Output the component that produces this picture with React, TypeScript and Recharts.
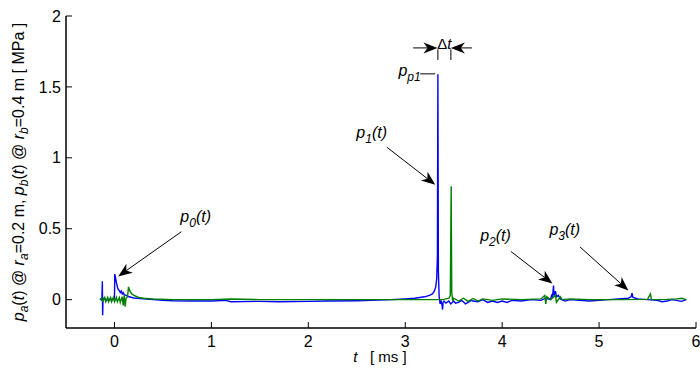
import React from "react";
import { LineChart, Line, XAxis, YAxis, ReferenceLine, ReferenceDot } from "recharts";

// sampled traces, time in ms, pressure in MPa
const blueT = [
  -0.15, -0.14, -0.13, -0.125, -0.122, -0.118, -0.11, -0.1, -0.08, -0.06, -0.04, -0.02, 0.0, 0.003,
  0.01, 0.02, 0.03, 0.04, 0.05, 0.06, 0.07, 0.08, 0.09, 0.1, 0.12, 0.15, 0.2, 0.3, 0.4, 0.5, 0.6,
  0.8, 1.0, 1.15, 1.2, 1.5, 1.7, 2.0, 2.2, 2.5, 2.8, 3.0, 3.1, 3.2, 3.25, 3.28, 3.3, 3.315, 3.325,
  3.332, 3.337, 3.342, 3.35, 3.36, 3.37, 3.38, 3.385, 3.39, 3.4, 3.42, 3.45, 3.47, 3.5, 3.52, 3.55,
  3.58, 3.6, 3.62, 3.65, 3.68, 3.7, 3.75, 3.8, 3.85, 3.9, 3.95, 4.0, 4.05, 4.1, 4.2, 4.3, 4.4, 4.45,
  4.5, 4.51, 4.52, 4.53, 4.535, 4.55, 4.56, 4.58, 4.6, 4.65, 4.7, 4.8, 4.9, 5.0, 5.1, 5.2, 5.3,
  5.33, 5.34, 5.35, 5.4, 5.5, 5.6, 5.65, 5.7, 5.75, 5.8, 5.85, 5.9,
];
const blueP = [
  0, 0.005, -0.005, 0.13, -0.11, 0.01, 0, 0.005, -0.005, 0.005, 0, 0.005, 0, 0.18,
  0.16, 0.12, 0.09, 0.07, 0.065, 0.05, 0.06, 0.04, 0.05, 0.035, 0.03, 0.02, 0.012, 0.005, 0, -0.005, -0.008,
  -0.01, -0.01, -0.005, -0.015, -0.012, -0.015, -0.012, -0.01, -0.008, -0.002, 0.005, 0.01, 0.02, 0.03, 0.04, 0.06, 0.09, 0.15,
  0.3, 1.59, 0.2, 0.02, -0.03, -0.01, -0.04, -0.07, -0.02, -0.01, -0.025, -0.01, -0.03, -0.01, -0.025, -0.02,
  -0.005, -0.015, -0.03, -0.02, -0.005, -0.01, -0.015, 0, -0.02, -0.01, -0.02, -0.01, -0.02, -0.005, -0.01, 0, -0.005, 0.01,
  0, 0.03, 0.02, 0.1, 0.03, 0.06, 0.02, 0.03, 0.005, -0.01, 0, -0.005, -0.01, -0.005, 0, 0.005, 0.01,
  0.02, 0.045, 0.015, 0.005, 0, -0.005, -0.015, -0.01, 0, -0.005, -0.012, 0,
];

const greenT = [
  -0.15, -0.13, -0.12, -0.1, -0.09, -0.07, -0.06, -0.04, -0.03, -0.01, 0, 0.02, 0.03, 0.05, 0.06,
  0.08, 0.09, 0.1, 0.11, 0.12, 0.135, 0.145, 0.16, 0.18, 0.2, 0.25, 0.3, 0.4, 0.6, 1.0, 1.2, 1.5,
  2.0, 2.5, 3.0, 3.3, 3.4, 3.45, 3.465, 3.474, 3.48, 3.49, 3.5, 3.55, 3.6, 3.65, 3.7, 3.75, 3.8, 3.9,
  4.0, 4.2, 4.4, 4.44, 4.45, 4.46, 4.5, 4.55, 4.56, 4.6, 4.62, 4.7, 4.9, 5.2, 5.5, 5.53, 5.54, 5.7,
  5.8, 5.85, 5.9,
];
const greenP = [
  0, 0.01, -0.01, 0.015, -0.015, 0.015, -0.015, 0.015, -0.015, 0.015, -0.015, 0.015, -0.015, 0.015, -0.02,
  0.02, -0.04, 0.03, -0.05, 0.01, 0.02, 0.09, 0.06, 0.04, 0.03, 0.015, 0.01, 0.005, 0, 0, 0.005, 0,
  0, 0, 0, 0, 0.002, 0.01, 0.03, 0.8, 0.05, -0.01, 0.01, -0.01, 0.01, -0.012, 0.008, -0.01, 0.005, -0.005,
  0.005, 0, 0.005, 0.03, -0.03, 0.02, 0, 0.03, -0.02, 0.02, 0, 0.005, 0, 0, 0.002, 0.04, 0, 0.002,
  0.005, 0.01, 0,
];

const xTicks = [0, 1, 2, 3, 4, 5, 6];
const yTicks = [0, 0.5, 1, 1.5, 2];

const blueData = blueT.map((t, i) => ({ t, p: blueP[i] }));
const greenData = greenT.map((t, i) => ({ t, p: greenP[i] }));

const font = "'Liberation Sans', Arial, Helvetica, sans-serif";

// arrows: tail -> tip, in data units
const arrows = [
  [[0.69, 0.479], [0.038, 0.164]],
  [[2.81, 1.075], [3.31, 0.81]],
  [[4.09, 0.34], [4.519, 0.113]],
  [[4.804, 0.371], [5.302, 0.065]],
  [[3.082, 1.775], [3.333, 1.775]],
  [[3.688, 1.775], [3.471, 1.775]],
];
const plainSegments = [
  [[3.337, 1.765], [3.337, 1.69]],
  [[3.471, 1.765], [3.471, 1.69]],
  [[3.155, 1.592], [3.309, 1.592]],
];

const arrowShape = (head: boolean) => (props: any) => {
  const { x1, y1, x2, y2 } = props;
  if (![x1, y1, x2, y2].every((v) => typeof v === "number")) return <g />;
  if (!head) return <line x1={x1} y1={y1} x2={x2} y2={y2} stroke="#000" strokeWidth={1} />;
  const dx = x2 - x1;
  const dy = y2 - y1;
  const len = Math.hypot(dx, dy) || 1;
  const ux = dx / len;
  const uy = dy / len;
  const nx = -uy;
  const ny = ux;
  const L = 14;
  const W = 5.5;
  const N = 4;
  const bx = x2 - L * ux;
  const by = y2 - L * uy;
  const mx = x2 - (L - N) * ux;
  const my = y2 - (L - N) * uy;
  const pts = `${x2},${y2} ${bx + W * nx},${by + W * ny} ${mx},${my} ${bx - W * nx},${by - W * ny}`;
  return (
    <g>
      <line x1={x1} y1={y1} x2={mx} y2={my} stroke="#000" strokeWidth={1} />
      <polygon points={pts} fill="#000" />
    </g>
  );
};

const symLabel = (sub: string, arg: string) => (props: any) => (
  <text x={props.cx} y={props.cy} fontSize={16} fontStyle="italic" fontFamily={font} fill="#000">
    p<tspan dy={5} fontSize={12}>{sub}</tspan>
    <tspan dy={-5}>{arg}</tspan>
  </text>
);

const deltaLabel = (props: any) => (
  <text x={props.cx} y={props.cy} fontSize={15} fontFamily={font} fill="#000" textAnchor="middle">
    Δ<tspan fontStyle="italic">t</tspan>
  </text>
);

const yLabel = () => (
  <text
    x={24}
    y={172}
    transform="rotate(-90 24 172)"
    textAnchor="middle"
    fontSize={16}
    fontFamily={font}
    fill="#000"
  >
    <tspan fontStyle="italic">p</tspan>
    <tspan dy={4} fontSize={12} fontStyle="italic">a</tspan>
    <tspan dy={-4}>(</tspan>
    <tspan fontStyle="italic">t</tspan>
    <tspan>) @ </tspan>
    <tspan fontStyle="italic">r</tspan>
    <tspan dy={4} fontSize={12} fontStyle="italic">a</tspan>
    <tspan dy={-4}>=0.2 m, </tspan>
    <tspan fontStyle="italic">p</tspan>
    <tspan dy={4} fontSize={12} fontStyle="italic">b</tspan>
    <tspan dy={-4}>(</tspan>
    <tspan fontStyle="italic">t</tspan>
    <tspan>) @ </tspan>
    <tspan fontStyle="italic">r</tspan>
    <tspan dy={4} fontSize={12} fontStyle="italic">b</tspan>
    <tspan dy={-4}>=0.4 m   [ MPa ]</tspan>
  </text>
);

const xLabel = () => (
  <text x={380} y={362} textAnchor="middle" fontSize={15} fontFamily={font} fill="#000" xmlSpace="preserve">
    <tspan fontStyle="italic">t</tspan>
    <tspan>{"   [ ms ]"}</tspan>
  </text>
);

const tickStyle = { fill: "#000", fontSize: 16, fontFamily: font };
const axisStyle = { stroke: "#000", strokeWidth: 1.5 };
const tickLineStyle = { stroke: "#000", strokeWidth: 1 };
const empty = () => "";

export default function App() {
  return (
    <div style={{ position: "absolute", left: 0, top: 0, background: "#fff" }}>
      <LineChart width={700} height={369} margin={{ top: 16, right: 4, bottom: 0, left: 0 }}>
        <XAxis
          dataKey="t"
          type="number"
          domain={[-0.5, 6]}
          ticks={xTicks}
          allowDataOverflow
          height={41}
          tick={tickStyle}
          tickSize={-6}
          tickMargin={14}
          axisLine={axisStyle}
          tickLine={tickLineStyle}
          label={{ content: xLabel }}
        />
        <XAxis
          xAxisId="top"
          orientation="top"
          dataKey="t"
          type="number"
          domain={[-0.5, 6]}
          ticks={xTicks}
          allowDataOverflow
          height={0}
          tickFormatter={empty}
          tickSize={-6}
          axisLine={axisStyle}
          tickLine={tickLineStyle}
        />
        <YAxis
          type="number"
          domain={[-0.2, 2]}
          ticks={yTicks}
          allowDataOverflow
          width={66}
          tick={tickStyle}
          tickSize={-6}
          tickMargin={11}
          axisLine={axisStyle}
          tickLine={tickLineStyle}
          label={{ content: yLabel }}
        />
        <YAxis
          yAxisId="right"
          orientation="right"
          type="number"
          domain={[-0.2, 2]}
          ticks={yTicks}
          allowDataOverflow
          width={0}
          tickFormatter={empty}
          tickSize={-6}
          axisLine={axisStyle}
          tickLine={tickLineStyle}
        />
        <Line data={blueData} dataKey="p" stroke="#0000ff" strokeWidth={1.4} dot={false} isAnimationActive={false} />
        <Line data={greenData} dataKey="p" stroke="#008000" strokeWidth={1.4} dot={false} isAnimationActive={false} />
        {arrows.map((a, i) => (
          <ReferenceLine
            key={"a" + i}
            segment={[{ x: a[0][0], y: a[0][1] }, { x: a[1][0], y: a[1][1] }]}
            shape={arrowShape(true)}
          />
        ))}
        {plainSegments.map((a, i) => (
          <ReferenceLine
            key={"s" + i}
            segment={[{ x: a[0][0], y: a[0][1] }, { x: a[1][0], y: a[1][1] }]}
            shape={arrowShape(false)}
          />
        ))}
        <ReferenceDot x={0.68} y={0.55} r={1} shape={symLabel("0", "(t)")} />
        <ReferenceDot x={2.495} y={1.14} r={1} shape={symLabel("1", "(t)")} />
        <ReferenceDot x={3.773} y={0.41} r={1} shape={symLabel("2", "(t)")} />
        <ReferenceDot x={4.488} y={0.458} r={1} shape={symLabel("3", "(t)")} />
        <ReferenceDot x={2.93} y={1.577} r={1} shape={symLabel("p1", "")} />
        <ReferenceDot x={3.404} y={1.77} r={1} shape={deltaLabel} />
      </LineChart>
    </div>
  );
}
